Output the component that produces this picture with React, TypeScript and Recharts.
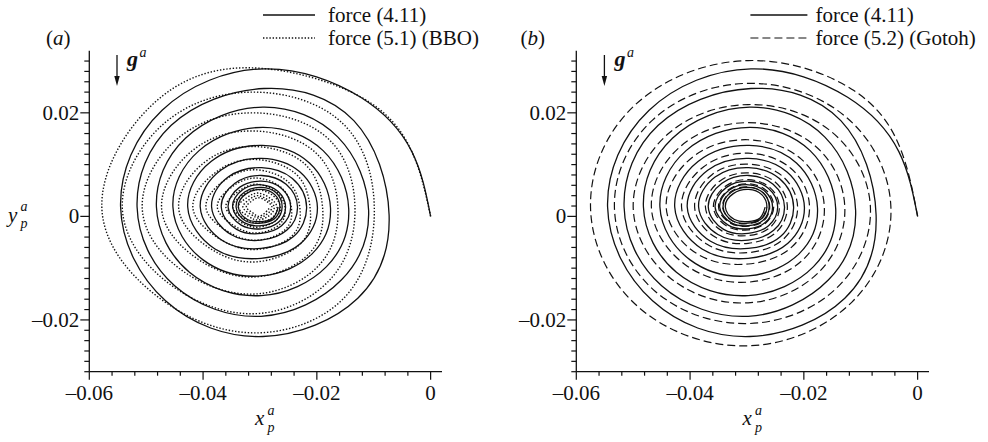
import { LineChart, Line, XAxis, YAxis } from "recharts";

// tick positions (minor + major), labels only on majors
const X_TICKS = [-0.06, -0.056, -0.052, -0.048, -0.044, -0.04, -0.036, -0.032, -0.028, -0.024, -0.02, -0.016, -0.012, -0.008, -0.004, 0];
const Y_TICKS = [
  -0.03, -0.028, -0.026, -0.024, -0.022, -0.02, -0.018, -0.016, -0.014, -0.012, -0.01, -0.008, -0.006, -0.004, -0.002, 0,
  0.002, 0.004, 0.006, 0.008, 0.01, 0.012, 0.014, 0.016, 0.018, 0.02, 0.022, 0.024, 0.026, 0.028, 0.03,
];

// particle trajectory, force (4.11), ~8 points per turn
const FORCE_411: [number, number][] = [
  [0, 0], [-0.0033, 0.0125], [-0.0123, 0.023], [-0.0293, 0.0285], [-0.0472, 0.0205], [-0.0545, 0.0018], [-0.0466, -0.0163], [-0.0295, -0.0232], [-0.0128, -0.0158],
  [-0.0073, 0.0003], [-0.0135, 0.0185], [-0.0293, 0.0247], [-0.0456, 0.0176], [-0.0516, 0.0018], [-0.045, -0.0134], [-0.0298, -0.0193], [-0.0157, -0.0123],
  [-0.0109, 0.0012], [-0.0163, 0.0153], [-0.0295, 0.0211], [-0.0431, 0.0151], [-0.0482, 0.0018], [-0.0424, -0.0108], [-0.0298, -0.0153], [-0.0183, -0.0097],
  [-0.0144, 0.0015], [-0.0189, 0.0127], [-0.0295, 0.0172], [-0.0407, 0.0127], [-0.0453, 0.0018], [-0.04, -0.0084], [-0.0298, -0.0115], [-0.0208, -0.0072],
  [-0.0176, 0.0016], [-0.0213, 0.0103], [-0.0296, 0.0137], [-0.0386, 0.0106], [-0.0427, 0.0018], [-0.0379, -0.0063], [-0.0298, -0.0081], [-0.0228, -0.0052],
  [-0.0199, 0.0017], [-0.023, 0.0086], [-0.0297, 0.0112], [-0.0369, 0.0089], [-0.0405, 0.0018], [-0.0364, -0.0048], [-0.0298, -0.0062], [-0.0241, -0.0039],
  [-0.0218, 0.0018], [-0.0243, 0.0073], [-0.0297, 0.0094], [-0.0356, 0.0076], [-0.0385, 0.0018], [-0.0351, -0.0035], [-0.0298, -0.0046], [-0.0253, -0.0027],
  [-0.0234, 0.0018], [-0.0254, 0.0062], [-0.0297, 0.0079], [-0.0344, 0.0064], [-0.0368, 0.0018], [-0.0341, -0.0025], [-0.0298, -0.0033], [-0.0262, -0.0018],
  [-0.0246, 0.0018], [-0.0262, 0.0054], [-0.0297, 0.0068], [-0.0336, 0.0056], [-0.0356, 0.0018], [-0.0333, -0.0017], [-0.0298, -0.0024], [-0.0268, -0.0012],
  [-0.0255, 0.0018], [-0.0268, 0.0048], [-0.0297, 0.0061], [-0.0331, 0.0051], [-0.0348, 0.0018], [-0.0328, -0.0012], [-0.0298, -0.0018], [-0.0272, -0.0008],
  [-0.0261, 0.0018], [-0.0271, 0.0045], [-0.0297, 0.0056], [-0.0327, 0.0047], [-0.0342, 0.0018], [-0.0325, -0.0009], [-0.0298, -0.0013], [-0.0275, -0.0005],
  [-0.0265, 0.0018], [-0.0274, 0.0042], [-0.0297, 0.0052], [-0.0324, 0.0044], [-0.0338, 0.0018], [-0.0322, -0.0006], [-0.0298, -0.001], [-0.0277, -0.0003],
  [-0.0268, 0.0018],
];

// force (5.1) (BBO)
const FORCE_51_BBO: [number, number][] = [
  [0, 0], [-0.0033, 0.0125], [-0.0125, 0.0232], [-0.032, 0.0287], [-0.049, 0.0215], [-0.0578, 0.0018], [-0.048, -0.0155], [-0.031, -0.0225], [-0.015, -0.0155],
  [-0.0099, 0.0018], [-0.0155, 0.018], [-0.031, 0.024], [-0.0468, 0.018], [-0.0542, 0.0018], [-0.0462, -0.0128], [-0.031, -0.0188], [-0.0175, -0.012],
  [-0.0133, 0.0018], [-0.018, 0.015], [-0.0312, 0.02], [-0.0445, 0.015], [-0.0507, 0.0018], [-0.044, -0.0102], [-0.031, -0.015], [-0.0195, -0.0093],
  [-0.0163, 0.0018], [-0.0203, 0.0124], [-0.0312, 0.0165], [-0.042, 0.0126], [-0.0473, 0.0018], [-0.0415, -0.0078], [-0.031, -0.0117], [-0.0212, -0.007],
  [-0.019, 0.0018], [-0.0222, 0.0102], [-0.0311, 0.0135], [-0.0398, 0.0104], [-0.0443, 0.0018], [-0.0393, -0.0058], [-0.031, -0.0088], [-0.0228, -0.0052],
  [-0.0212, 0.0018], [-0.0238, 0.0083], [-0.031, 0.011], [-0.0378, 0.0085], [-0.0418, 0.0018], [-0.0373, -0.0042], [-0.0308, -0.0064], [-0.0243, -0.0037],
  [-0.023, 0.0018], [-0.0252, 0.0068], [-0.0308, 0.009], [-0.0362, 0.007], [-0.0395, 0.0018], [-0.0357, -0.0029], [-0.0306, -0.0046], [-0.0255, -0.0025],
  [-0.0245, 0.0018], [-0.0263, 0.0056], [-0.0306, 0.0074], [-0.0348, 0.0058], [-0.0375, 0.0018], [-0.0344, -0.0019], [-0.0305, -0.0032], [-0.0265, -0.0015],
  [-0.0256, 0.0018], [-0.0271, 0.0047], [-0.0305, 0.0062], [-0.0337, 0.0049], [-0.036, 0.0018], [-0.0334, -0.0011], [-0.0304, -0.0021], [-0.0272, -0.0008],
  [-0.0264, 0.0018], [-0.0277, 0.004], [-0.0304, 0.0052], [-0.0329, 0.0042], [-0.0348, 0.0018], [-0.0326, -0.0005], [-0.0303, -0.0013], [-0.0278, -0.0002],
  [-0.027, 0.0018], [-0.0282, 0.0035], [-0.0303, 0.0045], [-0.0322, 0.0037], [-0.0338, 0.0018], [-0.032, 0.0], [-0.0303, -0.0007], [-0.0283, 0.0002],
  [-0.0275, 0.0018], [-0.0285, 0.0031], [-0.0303, 0.004], [-0.0318, 0.0033], [-0.033, 0.0018], [-0.0316, 0.0004], [-0.0302, -0.0003], [-0.0287, 0.0005],
  [-0.0279, 0.0018], [-0.0288, 0.0029], [-0.0302, 0.0036], [-0.0314, 0.003], [-0.0324, 0.0018], [-0.0313, 0.0007], [-0.0302, 0.0], [-0.029, 0.0008],
  [-0.0282, 0.0018],
];

// force (5.2) (Gotoh)
const FORCE_52_GOTOH: [number, number][] = [
  [0, 0], [-0.003, 0.013], [-0.0112, 0.0243], [-0.0298, 0.0301], [-0.0496, 0.0216], [-0.0575, 0.0018], [-0.0491, -0.0175], [-0.0298, -0.025], [-0.0115, -0.0165],
  [-0.0047, 0.0018], [-0.0125, 0.0191], [-0.0298, 0.0257], [-0.0466, 0.0186], [-0.0533, 0.0018], [-0.0461, -0.0145], [-0.0298, -0.0207], [-0.0142, -0.0138],
  [-0.0083, 0.0018], [-0.0152, 0.0164], [-0.0298, 0.0216], [-0.0439, 0.0159], [-0.05, 0.0018], [-0.0435, -0.0119], [-0.0298, -0.0167], [-0.0173, -0.0107],
  [-0.0128, 0.0018], [-0.018, 0.0136], [-0.0298, 0.0181], [-0.0416, 0.0136], [-0.0468, 0.0018], [-0.0409, -0.0093], [-0.0298, -0.0127], [-0.0199, -0.0081],
  [-0.0164, 0.0018], [-0.0205, 0.0111], [-0.0298, 0.0148], [-0.0395, 0.0115], [-0.0442, 0.0018], [-0.0388, -0.0072], [-0.0298, -0.0092], [-0.0221, -0.0059],
  [-0.019, 0.0018], [-0.0223, 0.0093], [-0.0298, 0.0122], [-0.0376, 0.0096], [-0.0415, 0.0018], [-0.037, -0.0054], [-0.0298, -0.007], [-0.0236, -0.0044],
  [-0.0211, 0.0018], [-0.0238, 0.0078], [-0.0298, 0.0101], [-0.0361, 0.0081], [-0.0392, 0.0018], [-0.0356, -0.004], [-0.0298, -0.0052], [-0.0249, -0.0031],
  [-0.0229, 0.0018], [-0.025, 0.0066], [-0.0298, 0.0084], [-0.0348, 0.0068], [-0.0373, 0.0018], [-0.0344, -0.0028], [-0.0298, -0.0037], [-0.0259, -0.0021],
  [-0.0243, 0.0018], [-0.026, 0.0056], [-0.0298, 0.0071], [-0.0338, 0.0058], [-0.0359, 0.0018], [-0.0335, -0.0019], [-0.0298, -0.0026], [-0.0267, -0.0013],
  [-0.0253, 0.0018], [-0.0266, 0.005], [-0.0298, 0.0063], [-0.0332, 0.0052], [-0.035, 0.0018], [-0.0329, -0.0013], [-0.0298, -0.0019], [-0.0271, -0.0009],
  [-0.026, 0.0018], [-0.0271, 0.0045], [-0.0298, 0.0057], [-0.0328, 0.0048], [-0.0343, 0.0018], [-0.0325, -0.0009], [-0.0298, -0.0014], [-0.0275, -0.0005],
  [-0.0265, 0.0018],
];

const FONT = "'Liberation Serif', 'Times New Roman', serif";
const INK = "#111";

const toPoints = (arr: [number, number][]) => arr.map(([x, y]) => ({ x, y }));
const isMajor = (v: number) => Math.abs(v / 0.02 - Math.round(v / 0.02)) < 1e-6;
const fmt = (v: number) => (Math.abs(v) < 1e-9 ? "0" : (v < 0 ? "\u2013" : "") + Math.abs(v).toFixed(2));

function XTick({ x, y, payload }: any) {
  const major = isMajor(payload.value);
  return (
    <g>
      <line x1={x} y1={y} x2={x} y2={y + (major ? 8 : 4)} stroke={INK} strokeWidth={1.2} />
      {major && (
        <text x={x} y={y + 28} textAnchor="middle" fontFamily={FONT} fontSize={21} fill={INK}>
          {fmt(payload.value)}
        </text>
      )}
    </g>
  );
}

function YTick({ x, y, payload }: any) {
  const major = isMajor(payload.value);
  return (
    <g>
      <line x1={x} y1={y} x2={x - (major ? 9 : 5)} y2={y} stroke={INK} strokeWidth={1.2} />
      {major && (
        <text x={x - 10} y={y + 7} textAnchor="end" fontFamily={FONT} fontSize={21} fill={INK}>
          {fmt(payload.value)}
        </text>
      )}
    </g>
  );
}

interface PanelProps {
  left: number;
  other: [number, number][];
  dash: string;
  otherWidth: number;
}

function Panel({ left, other, dash, otherWidth }: PanelProps) {
  return (
    <div style={{ position: "absolute", left, top: 0 }}>
      <LineChart width={494} height={442} margin={{ top: 50.7, right: 52, bottom: 30.3, left: 39.3 }}>
        <XAxis
          dataKey="x"
          type="number"
          domain={[-0.06, 0.002]}
          ticks={X_TICKS}
          interval={0}
          allowDataOverflow
          height={40}
          tickSize={0}
          tickMargin={0}
          tickLine={false}
          axisLine={{ stroke: INK, strokeWidth: 1.3 }}
          tick={<XTick />}
        />
        <YAxis
          dataKey="y"
          type="number"
          domain={[-0.03, 0.032]}
          ticks={Y_TICKS}
          interval={0}
          allowDataOverflow
          width={50}
          tickSize={0}
          tickMargin={0}
          tickLine={false}
          axisLine={{ stroke: INK, strokeWidth: 1.3 }}
          tick={<YTick />}
        />
        <Line
          data={toPoints(other)}
          dataKey="y"
          type="natural"
          stroke={INK}
          strokeWidth={otherWidth}
          strokeDasharray={dash}
          dot={false}
          isAnimationActive={false}
        />
        <Line
          data={toPoints(FORCE_411)}
          dataKey="y"
          type="natural"
          stroke={INK}
          strokeWidth={1.3}
          dot={false}
          isAnimationActive={false}
        />
      </LineChart>
    </div>
  );
}

function Annotations({ dx, tag, name, dash, lineEnd, dashWidth }: { dx: number; tag: string; name: string; dash: string; lineEnd: number; dashWidth: number }) {
  const t = { fontFamily: FONT, fill: INK };
  return (
    <g>
      {/* legend */}
      <line x1={263 + dx} y1={15} x2={lineEnd + dx} y2={15} stroke={INK} strokeWidth={1.3} />
      <text x={328 + dx} y={22} fontSize={21} {...t}>force (4.11)</text>
      <line x1={263 + dx} y1={38} x2={lineEnd + dx} y2={38} stroke={INK} strokeWidth={dashWidth} strokeDasharray={dash} />
      <text x={328 + dx} y={45} fontSize={21} {...t}>{name}</text>
      {/* panel tag */}
      <text x={46 + dx - (tag === "b" ? 13 : 0)} y={45} fontSize={21} {...t}>
        (<tspan fontStyle="italic">{tag}</tspan>)
      </text>
      {/* gravity arrow */}
      <line x1={117 + dx} y1={55} x2={117 + dx} y2={78} stroke={INK} strokeWidth={1.3} />
      <polygon points={`${114.3 + dx},76 ${119.7 + dx},76 ${117 + dx},86`} fill={INK} />
      <text x={127 + dx} y={66} fontSize={22} fontWeight="bold" fontStyle="italic" {...t}>g</text>
      <text x={139.5 + dx} y={57} fontSize={14} fontStyle="italic" {...t}>a</text>
      {/* x axis title */}
      <text x={255 + dx} y={425} fontSize={21} fontStyle="italic" {...t}>x</text>
      <text x={267.5 + dx} y={415} fontSize={14} fontStyle="italic" {...t}>a</text>
      <text x={267.5 + dx} y={432} fontSize={14} fontStyle="italic" {...t}>p</text>
    </g>
  );
}

export default function App() {
  return (
    <div style={{ position: "absolute", left: 0, top: 0, width: 988, height: 442, background: "#fff" }}>
      <Panel left={0} other={FORCE_51_BBO} dash="1.4 1.8" otherWidth={1.4} />
      <Panel left={487.4} other={FORCE_52_GOTOH} dash="8 4" otherWidth={1.2} />
      <svg width={988} height={442} style={{ position: "absolute", left: 0, top: 0, pointerEvents: "none" }}>
        <Annotations dx={0} tag="a" name="force (5.1) (BBO)" dash="1.4 1.8" dashWidth={1.4} lineEnd={315} />
        <Annotations dx={487.4} tag="b" name="force (5.2) (Gotoh)" dash="8 4" dashWidth={1.2} lineEnd={320} />
        {/* y axis title (left panel only) */}
        <text x={8} y={222} fontSize={21} fontStyle="italic" fontFamily={FONT} fill={INK}>y</text>
        <text x={20.5} y={211} fontSize={14} fontStyle="italic" fontFamily={FONT} fill={INK}>a</text>
        <text x={20.5} y={228} fontSize={14} fontStyle="italic" fontFamily={FONT} fill={INK}>p</text>
      </svg>
    </div>
  );
}
